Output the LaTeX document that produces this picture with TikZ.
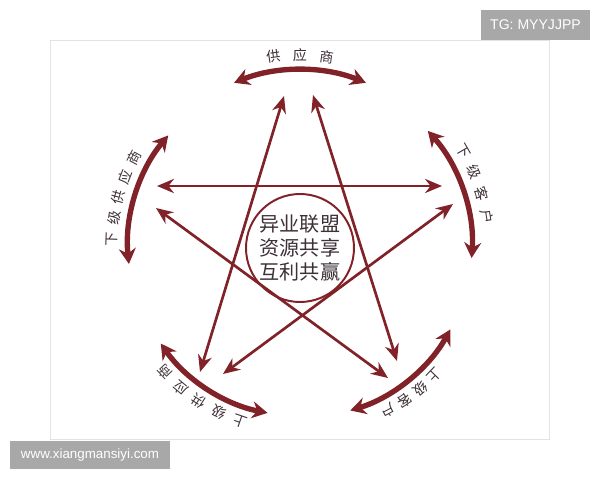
\documentclass[tikz,border=0pt]{standalone}
\usepackage{fontspec}
\setmainfont{Noto Sans CJK SC}
\setsansfont{Liberation Sans}
\usetikzlibrary{arrows.meta}
\definecolor{wine}{RGB}{128,34,40}
\definecolor{ink}{RGB}{62,48,56}
\definecolor{stampgray}{RGB}{168,168,168}

\begin{document}
\begin{tikzpicture}[
    star/.style={wine,line width=1.9pt,{Stealth[length=12pt,width=10pt]}-{Stealth[length=12pt,width=10pt]}},
    ring/.style={wine,line width=3.8pt,{Stealth[length=11pt,width=12pt]}-{Stealth[length=11pt,width=12pt]}},
    lbl/.style={ink,font=\fontsize{10}{12}\selectfont,inner sep=0pt},
    stamp/.style={fill=stampgray,text=white,font=\sffamily\fontsize{10}{12}\selectfont,inner sep=0pt}]
    \useasboundingbox (-7.5,-5.85) rectangle (7.5,6.15);
    \draw[gray!22,fill=white] (-6.25,-4.825) rectangle (6.225,5.15);

    \node[circle,draw=wine,line width=1.4pt,minimum size=2.7cm,inner sep=0pt,
      text=ink,align=center,font=\fontsize{14.3}{17.4}\selectfont](hub)at(0,-0.05)
      {异业联盟\\资源共享\\互利共赢};

    \coordinate (topl) at (-0.4,3.75);   \coordinate (botl) at (-2.5,-3.15);
    \coordinate (topr) at (0.325,3.775); \coordinate (botr) at (2.425,-2.875);
    \coordinate (midl) at (-3.575,1.5);  \coordinate (midr) at (3.55,1.5);
    \coordinate (lowl) at (-3.6,0.95);   \coordinate (endr) at (2.2,-3.3);
    \coordinate (lowr) at (3.825,1.05);  \coordinate (endl) at (-1.925,-3.2);

    \draw[star] (topl) to (botl);
    \draw[star] (topr) to (botr);
    \draw[star] (midl) to (midr);
    \draw[star] (lowl) to (endr);
    \draw[star] (lowr) to (endl);

    \draw[ring] (112:4.4) arc[start angle=112,end angle=68,radius=4.4];
    \draw[ring] (140:4.3) arc[start angle=140,end angle=186,radius=4.3];
    \draw[ring] (42:4.3) arc[start angle=42,end angle=-4,radius=4.3];
    \draw[ring] (215:4.25) arc[start angle=215,end angle=259,radius=4.25];
    \draw[ring] (287:4.3) arc[start angle=287,end angle=331,radius=4.3];

    \node[lbl,rotate=8](supp1)at(98:4.78){供};
    \node[lbl,rotate=0](supp2)at(90:4.78){应};
    \node[lbl,rotate=-8](supp3)at(82:4.78){商};

    \node[lbl,rotate=88](dsup1)at(178:4.7){下};
    \node[lbl,rotate=81.5](dsup2)at(171.5:4.7){级};
    \node[lbl,rotate=75](dsup3)at(165:4.7){供};
    \node[lbl,rotate=68.5](dsup4)at(158.5:4.7){应};
    \node[lbl,rotate=62](dsup5)at(152:4.7){商};

    \node[lbl,rotate=-60](dcus1)at(30:4.72){下};
    \node[lbl,rotate=-67](dcus2)at(23:4.72){级};
    \node[lbl,rotate=-74](dcus3)at(16:4.72){客};
    \node[lbl,rotate=-81](dcus4)at(9:4.72){户};

    \node[lbl,rotate=161](usup1)at(251:4.63){上};
    \node[lbl,rotate=154](usup2)at(244:4.63){级};
    \node[lbl,rotate=147](usup3)at(237:4.63){供};
    \node[lbl,rotate=140](usup4)at(230:4.63){应};
    \node[lbl,rotate=133](usup5)at(223:4.63){商};

    \node[lbl,rotate=226](ucus1)at(316:4.67){上};
    \node[lbl,rotate=220](ucus2)at(310:4.67){级};
    \node[lbl,rotate=214](ucus3)at(304:4.67){客};
    \node[lbl,rotate=208](ucus4)at(298:4.67){户};

    \node[stamp,minimum width=2.725cm,minimum height=0.75cm](tg)at(5.8875,5.525){TG: MYYJJPP};
    \node[stamp,font=\sffamily\fontsize{9.5}{11}\selectfont,minimum width=4cm,minimum height=0.7cm](web)at(-5.25,-5.225){www.xiangmansiyi.com};
  \end{tikzpicture}
\end{document}
